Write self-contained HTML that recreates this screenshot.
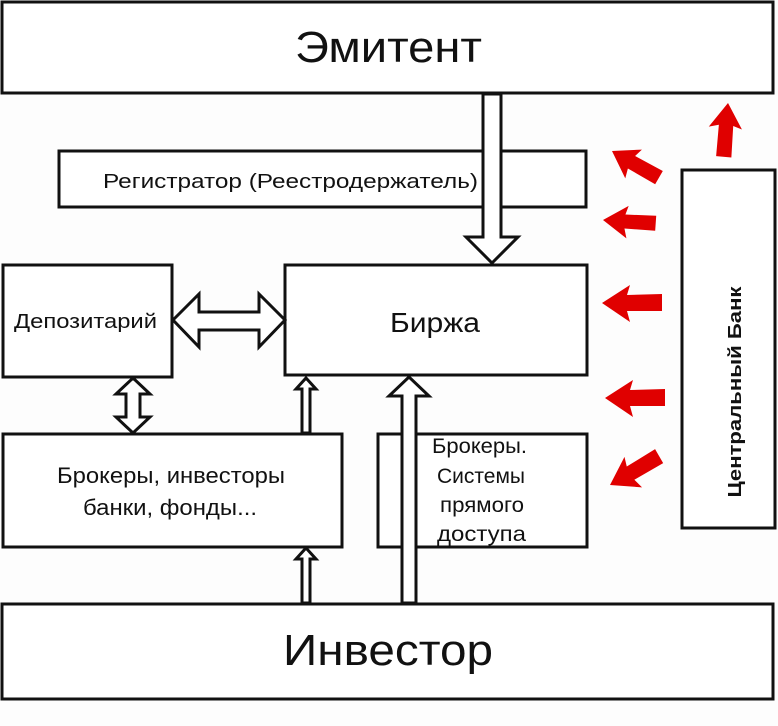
<!DOCTYPE html>
<html><head><meta charset="utf-8"><style>
html,body{margin:0;padding:0;background:#fff;}
svg{display:block;}
text{font-family:"Liberation Sans",sans-serif;fill:#111;}
</style></head><body>
<svg width="778" height="726" viewBox="0 0 778 726" xmlns="http://www.w3.org/2000/svg">
<rect width="778" height="726" fill="#fdfdfd"/>
<g fill="#fff" stroke="#111" stroke-width="3">
<rect x="2" y="2" width="771" height="91"/>
<rect x="59" y="151" width="527" height="56"/>
<rect x="3" y="265" width="169" height="112"/>
<rect x="285" y="265" width="302" height="110"/>
<rect x="3" y="434" width="339" height="113"/>
<rect x="378" y="434" width="209" height="113"/>
<rect x="682" y="170" width="93" height="358"/>
<rect x="2" y="604" width="771" height="95"/>
</g>
<text x="295" y="62" font-size="44" textLength="187" lengthAdjust="spacingAndGlyphs">Эмитент</text>
<text x="103" y="188" font-size="20" textLength="375" lengthAdjust="spacingAndGlyphs">Регистратор (Реестродержатель)</text>
<text x="14" y="328" font-size="20" textLength="143" lengthAdjust="spacingAndGlyphs">Депозитарий</text>
<text x="390" y="332" font-size="28" textLength="90" lengthAdjust="spacingAndGlyphs">Биржа</text>
<text x="57" y="483" font-size="22" textLength="228" lengthAdjust="spacingAndGlyphs">Брокеры, инвесторы</text>
<text x="83" y="515" font-size="22" textLength="174" lengthAdjust="spacingAndGlyphs">банки, фонды...</text>
<g font-size="21">
<text x="432" y="453" textLength="95" lengthAdjust="spacingAndGlyphs">Брокеры.</text>
<text x="437" y="483" textLength="88" lengthAdjust="spacingAndGlyphs">Системы</text>
<text x="440" y="512" textLength="84" lengthAdjust="spacingAndGlyphs">прямого</text>
<text x="437" y="541" textLength="89" lengthAdjust="spacingAndGlyphs">доступа</text>
</g>
<text x="283" y="665" font-size="44" textLength="210" lengthAdjust="spacingAndGlyphs">Инвестор</text>
<text transform="translate(741,392) rotate(-90)" font-size="18" font-weight="bold" text-anchor="middle" textLength="211" lengthAdjust="spacingAndGlyphs">Центральный Банк</text>
<g fill="#fff" stroke="#111" stroke-width="3" stroke-linejoin="miter">
<polygon points="483,94 501,94 501,237 518,237 492,263 466,237 483,237"/>
<polygon points="173,320 199,294 199,312 259,312 259,294 285,320 259,347 259,330 199,330 199,347"/>
<polygon points="133,378 150,394 140,394 140,417 150,417 133,433 116,417 126,417 126,394 116,394"/>
<polygon points="306,378 316,389 310,389 310,433 302,433 302,389 296,389"/>
<polygon points="306,548 316,559 310,559 310,603 302,603 302,559 296,559"/>
<polygon points="409,377 429,396 416,396 416,603 402,603 402,396 389,396"/>
</g>
<defs>
<polygon id="ra" points="0,0 28,-18 25,-8 60,-9 60,8 25,8 28,19"/>
</defs>
<g fill="#e00000">
<use href="#ra" transform="translate(612,151) rotate(30) scale(0.9)"/>
<use href="#ra" transform="translate(603,220) rotate(4) scale(0.88)"/>
<use href="#ra" transform="translate(602,303)"/>
<use href="#ra" transform="translate(605,398) rotate(0) scale(1.0)"/>
<use href="#ra" transform="translate(610,485) rotate(-30) scale(0.95)"/>
<use href="#ra" transform="translate(728,103) rotate(95) scale(0.9)"/>
</g>
</svg>
</body></html>
